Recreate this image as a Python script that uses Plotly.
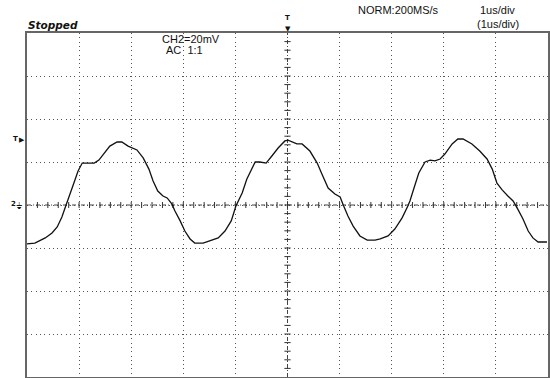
import plotly.graph_objects as go

# Waveform: time in microseconds (1 us/div), voltage in mV (20 mV/div)
time_us = [0.00, 0.15, 0.35, 0.48, 0.58, 0.67, 0.75, 0.83, 0.90, 0.98, 1.06, 1.17, 1.29, 1.38, 1.48,
           1.59, 1.73, 1.82, 1.94, 2.11, 2.23, 2.34, 2.42, 2.51, 2.61, 2.69, 2.78, 2.84, 2.94, 3.03,
           3.13, 3.22, 3.38, 3.51, 3.67, 3.80, 3.92, 4.01, 4.13, 4.22, 4.32, 4.38, 4.47, 4.59, 4.70,
           4.82, 4.95, 5.01, 5.18, 5.28, 5.43, 5.57, 5.66, 5.78, 5.91, 6.01, 6.07, 6.16, 6.26, 6.39,
           6.53, 6.68, 6.78, 6.93, 7.06, 7.20, 7.31, 7.35, 7.41, 7.52, 7.64, 7.74, 7.83, 7.93, 8.02,
           8.16, 8.27, 8.37, 8.54, 8.69, 8.83, 8.93, 9.02, 9.12, 9.23, 9.33, 9.42, 9.52, 9.62, 9.71,
           9.81, 9.98]
volt_mv = [-18.1, -17.7, -15.3, -13.0, -10.2, -5.6, 0.0, 5.1, 10.2, 15.8, 19.5, 19.5, 19.5, 20.9, 24.2,
           27.4, 29.3, 29.3, 27.4, 25.6, 21.9, 16.7, 11.2, 6.5, 4.2, 3.3, 0.5, -2.8, -7.4, -12.1,
           -15.8, -17.7, -17.7, -16.7, -15.3, -12.1, -7.4, -0.5, 5.6, 12.1, 17.2, 20.0, 20.0, 19.5, 22.8,
           26.5, 29.8, 30.2, 28.4, 28.4, 25.1, 19.5, 14.4, 7.9, 5.1, 3.7, 0.0, -5.1, -9.8, -14.4,
           -16.3, -16.3, -15.8, -14.4, -11.2, -6.0, -0.5, 1.9, 6.5, 14.9, 20.0, 20.9, 20.5, 21.4, 23.7,
           28.4, 30.7, 30.7, 28.4, 25.1, 21.4, 16.7, 10.2, 7.0, 4.2, 1.9, -1.9, -6.5, -12.1, -15.3,
           -17.2, -17.2]

X_DIVS = 10
Y_DIVS = 8
US_PER_DIV = 1
MV_PER_DIV = 20

x_max = X_DIVS * US_PER_DIV
y_half = Y_DIVS / 2 * MV_PER_DIV

fig = go.Figure()

# center cross tick marks (every 1/5 division)
tx, ty = [], []
n = X_DIVS * 5
for i in range(1, n):
    x = i * x_max / n
    tx += [x, x, None]
    ty += [-1.4, 1.4, None]
m = Y_DIVS * 5
for j in range(1, m):
    y = -y_half + j * 2 * y_half / m
    tx += [x_max / 2 - 0.06, x_max / 2 + 0.06, None]
    ty += [y, y, None]

# center lines
fig.add_trace(go.Scatter(x=[0, x_max], y=[0, 0], mode="lines",
                         line=dict(color="#444", width=1, dash="4px,2px,1px,2px"),
                         hoverinfo="skip", showlegend=False))
fig.add_trace(go.Scatter(x=[x_max / 2, x_max / 2], y=[-y_half, y_half], mode="lines",
                         line=dict(color="#444", width=1, dash="4px,2px,1px,2px"),
                         hoverinfo="skip", showlegend=False))
fig.add_trace(go.Scatter(x=tx, y=ty, mode="lines", line=dict(color="#333", width=1),
                         hoverinfo="skip", showlegend=False))

# waveform
fig.add_trace(go.Scatter(x=time_us, y=volt_mv, mode="lines",
                         line=dict(color="#111", width=1.3),
                         hoverinfo="skip", showlegend=False))

PL, PR, PT, PB = 27, 2, 33, 1
W, H = 550, 378
pw, ph = W - PL - PR, H - PT - PB


def px(x):
    return (x - PL) / pw


def py(y):
    return (H - PB - y) / ph


font = dict(family="Liberation Sans, Arial, sans-serif", size=11, color="#111")
sym = dict(family="DejaVu Sans", size=7, color="#111")
ann = [
    dict(text="<b><i>Stopped</i></b>", x=px(26), y=py(25), xanchor="left", yanchor="middle",
         font=dict(family="DejaVu Sans, sans-serif", size=10.5, color="#111")),
    dict(text="CH2=20mV", x=px(191), y=py(38.5), xanchor="center", yanchor="middle", font=font),
    dict(text="AC  1:1", x=px(184), y=py(50), xanchor="center", yanchor="middle", font=font),
    dict(text="NORM:200MS/s", x=px(399), y=py(10), xanchor="center", yanchor="middle", font=font),
    dict(text="1us/div", x=px(497), y=py(10), xanchor="center", yanchor="middle", font=font),
    dict(text="(1us/div)", x=px(498), y=py(24), xanchor="center", yanchor="middle", font=font),
    dict(text="<b>T</b>", x=px(287), y=py(18), xanchor="center", yanchor="middle", font=sym),
    dict(text="▼", x=px(288), y=py(28.5), xanchor="center", yanchor="middle", font=sym),
    dict(text="<b>T</b>", x=px(15), y=py(139), xanchor="center", yanchor="middle", font=sym),
    dict(text="▶", x=px(21.5), y=py(140), xanchor="center", yanchor="middle", font=sym),
    dict(text="<b>2</b>", x=px(13), y=py(204), xanchor="center", yanchor="middle", font=sym),
    dict(text="⏚", x=px(18.5), y=py(206), xanchor="center", yanchor="middle",
         font=dict(family="DejaVu Sans", size=9, color="#111")),
]
for a in ann:
    a.update(xref="paper", yref="paper", showarrow=False)

fig.update_layout(
    width=W, height=H,
    margin=dict(l=PL, r=PR, t=PT, b=PB, pad=0),
    paper_bgcolor="white", plot_bgcolor="white",
    annotations=ann,
    xaxis=dict(range=[0, x_max], dtick=US_PER_DIV, tick0=0, showticklabels=False, ticks="",
               showgrid=True, gridcolor="#555", gridwidth=1, griddash="1px,3.3px",
               zeroline=False, showline=True, mirror=True, linecolor="#666", linewidth=2,
               fixedrange=True),
    yaxis=dict(range=[-y_half, y_half], dtick=MV_PER_DIV, tick0=0, showticklabels=False, ticks="",
               showgrid=True, gridcolor="#555", gridwidth=1, griddash="1px,3.3px",
               zeroline=False, showline=True, mirror=True, linecolor="#666", linewidth=2,
               fixedrange=True),
)

fig.write_html("out.html", config={"displayModeBar": False},
               post_script="document.body.style.margin='0';document.body.style.overflow='hidden';")
